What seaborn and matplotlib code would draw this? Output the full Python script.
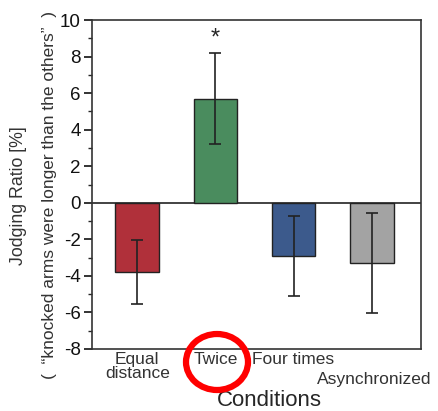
import numpy as np
import pandas as pd
import matplotlib
matplotlib.use("Agg")
import matplotlib.pyplot as plt
import matplotlib.transforms as mtransforms
import seaborn as sns
from matplotlib.patches import Ellipse

# ===== DATA =====
conditions = ["Equal\ndistance", "Twice", "Four times", "Asynchronized"]
ratio = [-3.8, 5.7, -2.9, -3.3]
err = [1.75, 2.5, 2.2, 2.75]
bar_colors = ["#b0303a", "#4a8c5e", "#3c5a8c", "#a3a3a3"]

df = pd.DataFrame({"cond": conditions, "ratio": ratio})

# ===== PLOT =====
sns.set_style("white")
plt.rcParams["font.family"] = ["Liberation Sans", "DejaVu Sans"]
plt.rcParams["axes.unicode_minus"] = False

fig = plt.figure(figsize=(4.38, 4.11), dpi=100)
ax = fig.add_axes([0.21, 0.151, 0.751, 0.8])

sns.barplot(data=df, x="cond", y="ratio", hue="cond", palette=bar_colors,
            legend=False, width=0.56, edgecolor="#222222", linewidth=1.0,
            saturation=1, ax=ax)
ax.errorbar(np.arange(len(ratio)), ratio, yerr=err, fmt="none",
            ecolor="#222222", elinewidth=1.2, capsize=4.5, capthick=1.2)
ax.axhline(0, color="#222222", lw=1.2, zorder=0)

ax.set_xlim(-0.58, 3.63)
ax.set_ylim(-8, 10)
ax.set_yticks(np.arange(-8, 11, 2))
ax.set_yticks(np.arange(-8, 11, 1), minor=True)
ax.tick_params(axis="y", which="major", direction="out", length=6, width=1.2,
               left=True, labelsize=13.5, pad=2, colors="#111111")
ax.tick_params(axis="y", which="minor", direction="out", length=3, width=1.0, left=True)
ax.tick_params(axis="x", length=0, labelsize=12.5, pad=2, colors="#333333")
for lbl in ax.get_xticklabels():
    lbl.set_linespacing(0.9)
# last category label sits one line lower
last = ax.get_xticklabels()[-1]
last.set_transform(last.get_transform() +
                   mtransforms.ScaledTranslation(0.03, -0.2, fig.dpi_scale_trans))
for s in ax.spines.values():
    s.set_color("#333333")
    s.set_linewidth(1.2)

ax.set_xlabel("Conditions", fontsize=16)
ax.xaxis.label.set_va("center")
ax.xaxis.set_label_coords(0.54, -0.157)
ax.set_ylabel("")

# significance mark
ax.text(1, 9.0, "*", ha="center", va="center", fontsize=17)

# two-line y label
fig.text(0.043, 0.523, "Jodging Ratio [%]", rotation=90, ha="center",
         va="center", fontsize=12.8, color="#333333")
fig.text(0.112, 0.525, "(  “knocked arms were longer than the others”  )", rotation=90,
         ha="center", va="center", fontsize=12.5, color="#333333")

# red circle around "Twice"
fig.add_artist(Ellipse((217 / 438, 1 - 362 / 411), 62 / 438, 56 / 411,
                       fill=False, edgecolor="red", lw=4.5,
                       transform=fig.transFigure))

fig.savefig("out.png", dpi=100)
